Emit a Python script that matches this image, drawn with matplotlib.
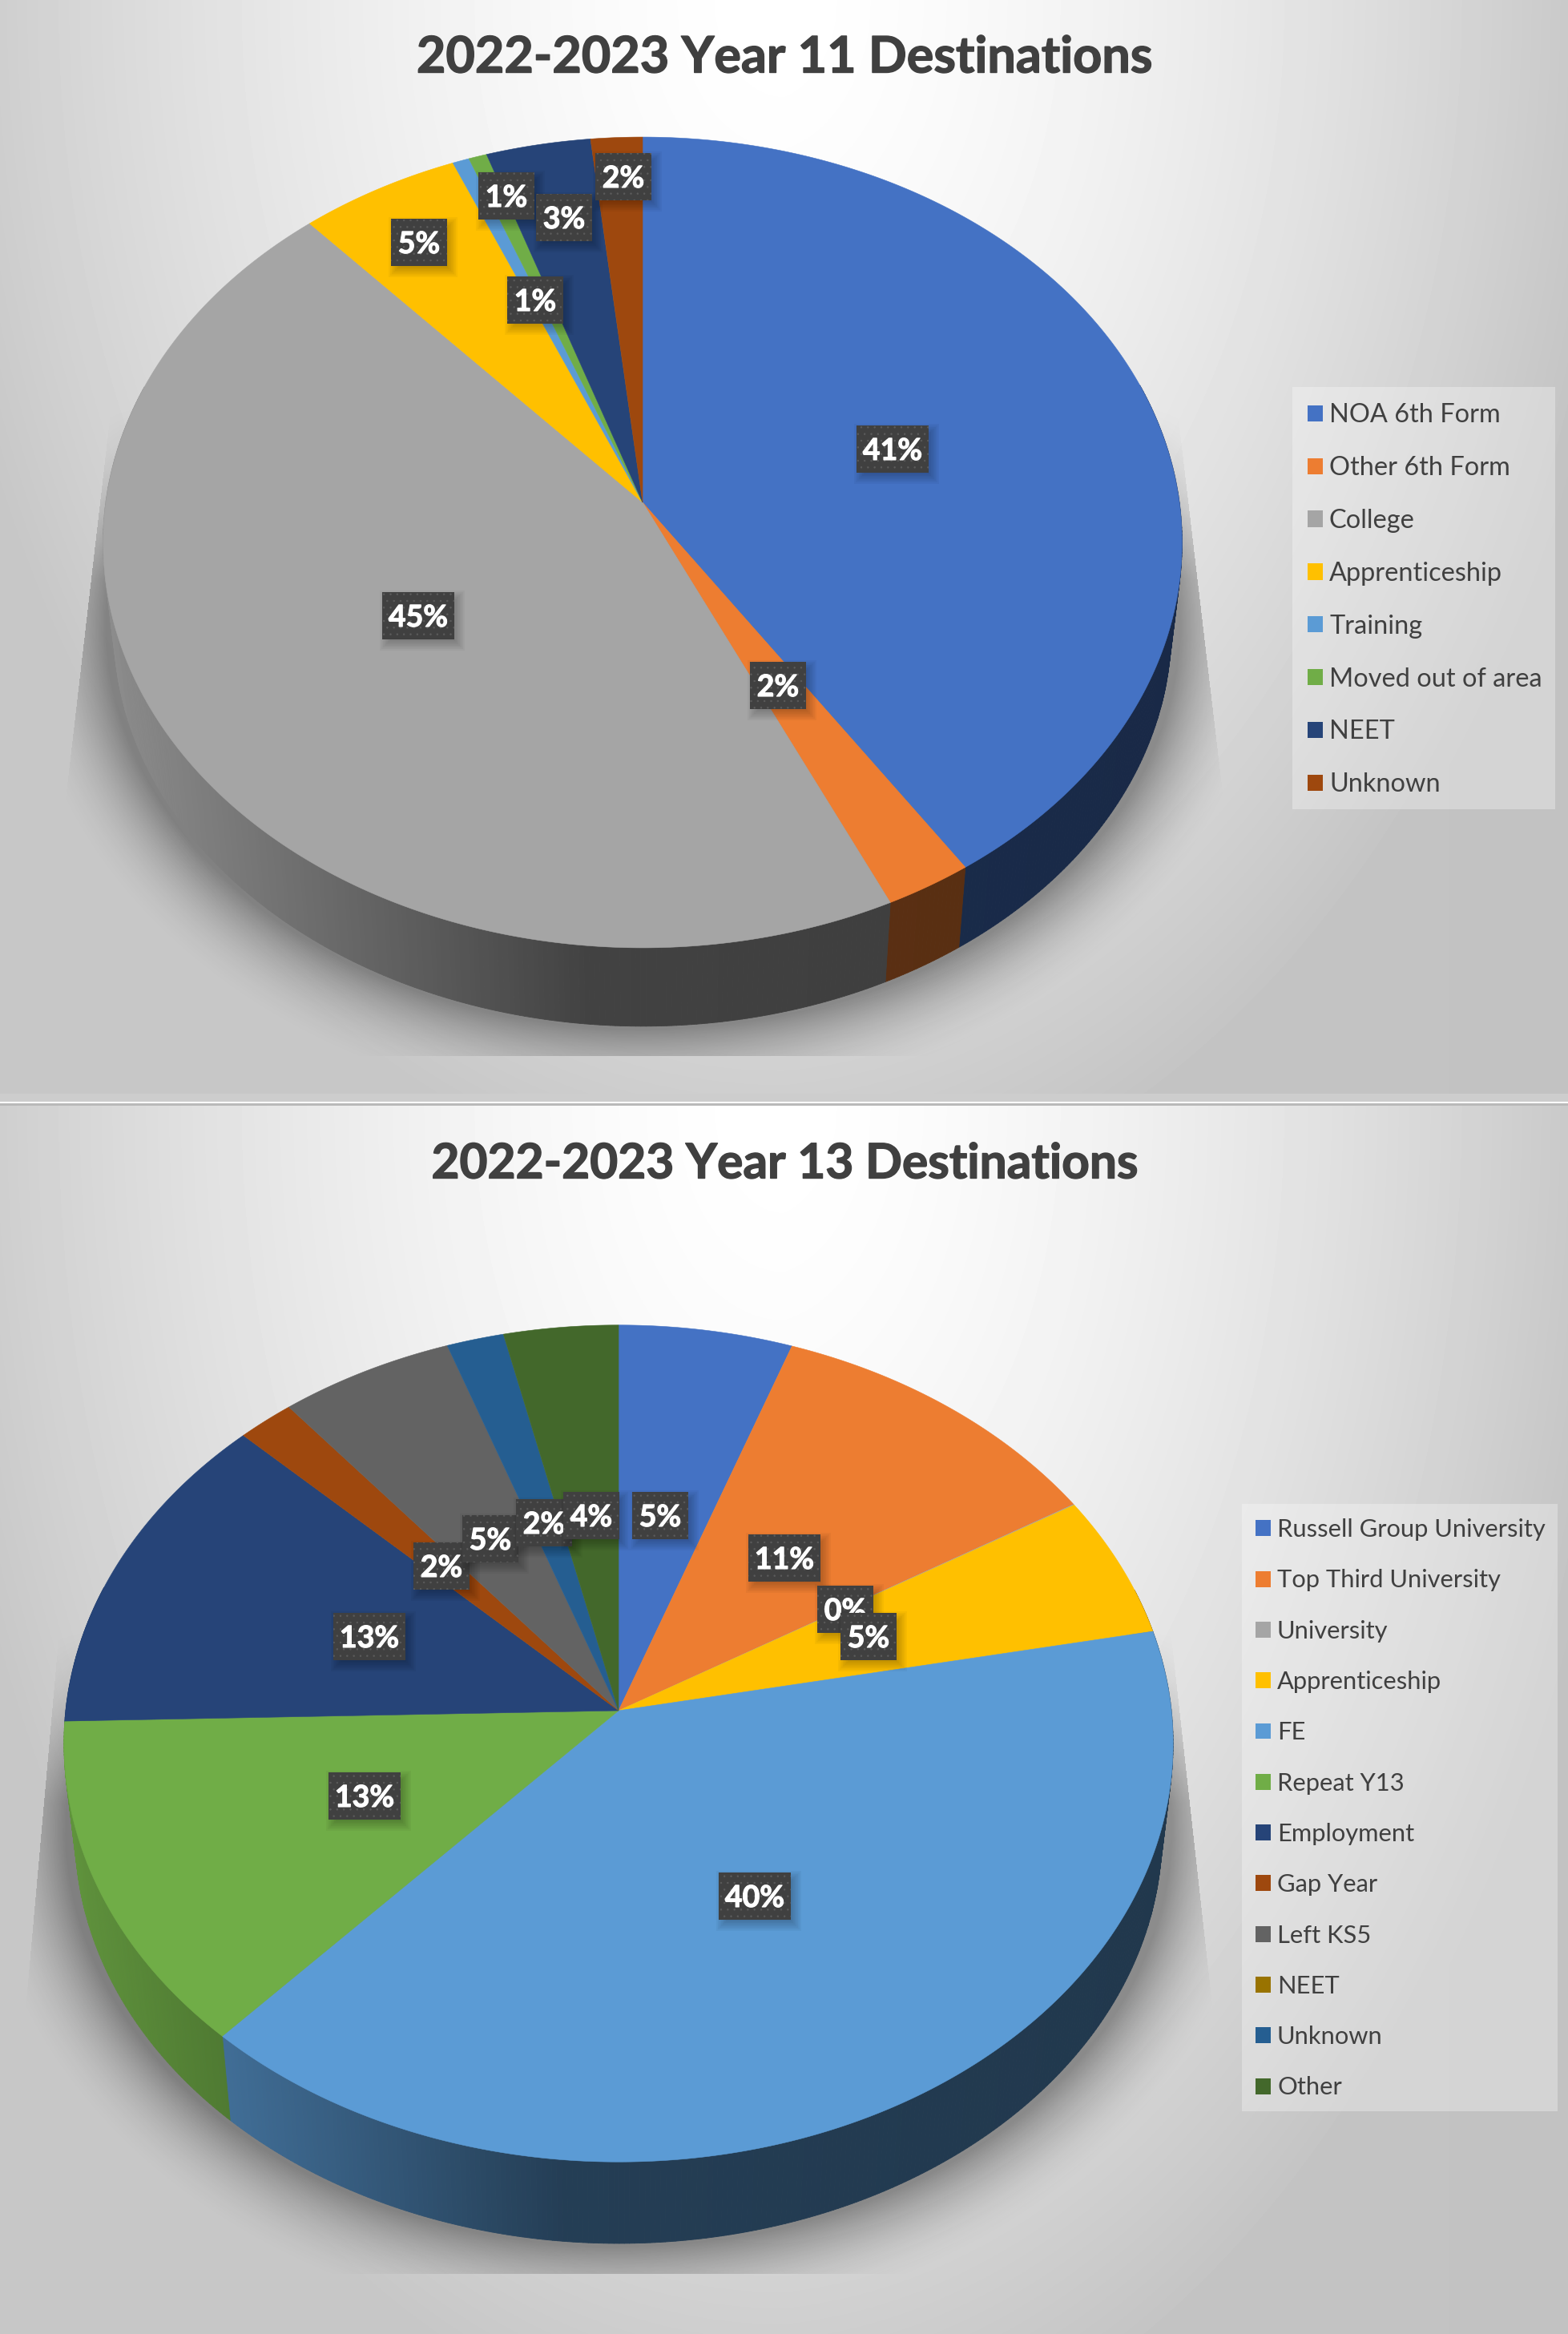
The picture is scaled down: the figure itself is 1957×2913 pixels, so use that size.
import numpy as np
import matplotlib
matplotlib.use("Agg")
import matplotlib.pyplot as plt
import matplotlib.patheffects as pe
from matplotlib.patches import Polygon, Rectangle, Patch
from matplotlib.collections import PolyCollection
from matplotlib.colors import to_rgb

W, H = 1957, 2913
plt.rcParams['font.family'] = ['Lato', 'DejaVu Sans']
plt.rcParams['hatch.linewidth'] = 0.5

# ---------- data ----------
title_11 = "2022-2023 Year 11 Destinations"
cats_11 = ["NOA 6th Form", "Other 6th Form", "College", "Apprenticeship", "Training",
           "Moved out of area", "NEET", "Unknown"]
vals_11 = [40.7, 2.4, 45.3, 5.3, 0.55, 0.6, 3.45, 1.7]
labels_11 = ["41%", "2%", "45%", "5%", "1%", "1%", "3%", "2%"]
colors_11 = ["#4472C4", "#ED7D31", "#A5A5A5", "#FFC000", "#5B9BD5", "#70AD47", "#264478", "#9E480E"]

title_13 = "2022-2023 Year 13 Destinations"
cats_13 = ["Russell Group University", "Top Third University", "University", "Apprenticeship", "FE",
           "Repeat Y13", "Employment", "Gap Year", "Left KS5", "NEET", "Unknown", "Other"]
vals_13 = [5.47, 10.9, 0.03, 5.5, 39.9, 12.8, 12.7, 1.8, 5.5, 0.0, 1.8, 3.6]
labels_13 = ["5%", "11%", "0%", "5%", "40%", "13%", "13%", "2%", "5%", "", "2%", "4%"]
colors_13 = ["#4472C4", "#ED7D31", "#A5A5A5", "#FFC000", "#5B9BD5", "#70AD47", "#264478", "#9E480E",
             "#636363", "#997300", "#255E91", "#43682B"]

# ---------- layout (pixel positions) ----------
layout_11 = dict(cx=802, cy=627, Rx=670, Ry=501, k=0.0988, d=109, title_y=72.5, title_fs=45.3,
                 trap=(502, 976, 139, 84, 1468, 1524), clip=1317, panel=(0, 1375),
                 box=(1613, 483, 1941, 1010), leg_x=1632, leg_y=518, row=65.1, fs=23.4)
label_xy_11 = [(1114, 560), (971, 855), (522, 768), (523, 302), (632, 244), (668, 374), (704, 271), (778, 220)]
layout_13 = dict(cx=772, cy=2135, Rx=690, Ry=519, k=0.0785, d=113, title_y=1453.5, title_fs=43.5,
                 trap=(2030, 2480, 74, 34, 1460, 1510), clip=2837, panel=(1378, 2913),
                 box=(1550, 1877, 1944, 2635), leg_x=1567, leg_y=1909, row=63.05, fs=22.2)
label_xy_13 = [(824, 1891), (979, 1944), (1055, 2008), (1084, 2042), (942, 2366), (455, 2241), (461, 2042),
               (551, 1954), (612, 1920), (0, 0), (679, 1900), (738, 1891)]


def background(ax, y0, y1):
    ys, xs = np.mgrid[y0:y1, 0:W:1]
    a = np.abs(xs - 978) / 978.0
    b = (ys - y0) / float(y1 - y0)
    r = np.minimum(np.sqrt(a ** 2 + b ** 2), 1.1)
    v = 1 - 0.19 * r ** 1.6 - 0.02 * np.clip(xs - 978, 0, None) / 978.0
    ax.imshow(v.astype(np.float32), extent=(0, W, y1, y0), cmap='gray', vmin=0, vmax=1,
              aspect='auto', zorder=0, interpolation='nearest')


def shadow(ax, L):
    y0, y1 = L['panel']
    ys, xs = np.mgrid[y0:y1, 0:W:1]
    cx = L['cx']
    top = L['cy'] - L['Ry'] / (1 + L['k'])
    bot = L['cy'] + L['Ry'] / (1 - L['k'])
    ey = (top + bot) / 2 + L['d'] - 8
    rx = L['Rx'] * 1.0
    ry = (bot - top) / 2
    dx, dy = xs - cx, ys - ey
    rho = np.sqrt((dx / rx) ** 2 + (dy / ry) ** 2)
    dist = np.hypot(dx, dy) * np.clip(1 - 1 / np.maximum(rho, 1e-6), 0, None)
    s = np.clip(dist / 115.0, 0, 1)
    alpha = 0.36 * (1 - s) ** 2
    ty0, ty1, xl0, xl1, xr0, xr1 = L['trap']
    f = (ys - ty0) / float(ty1 - ty0)
    xl = xl0 + (xl1 - xl0) * f
    xr = xr0 + (xr1 - xr0) * f
    mask = (ys >= ty0) & (ys <= L['clip']) & (xs >= xl) & (xs <= xr)
    fade = np.clip((ys - ty0) / 220.0, 0, 1)
    alpha = np.where(mask, alpha * fade, 0)
    rgba = np.zeros(alpha.shape + (4,), dtype=np.float32)
    rgba[..., 3] = alpha
    ax.imshow(rgba, extent=(0, W, y1, y0), aspect='auto', zorder=1, interpolation='nearest')


def rim(L, theta, lower=False):
    u, v = np.sin(theta), np.cos(theta)
    w = 1 + L['k'] * v
    X = L['Rx'] * u / w
    Y = -L['Ry'] * v / w
    if lower:
        return L['cx'] + 0.98 * X, L['cy'] + L['d'] + 0.98 * Y
    return L['cx'] + X, L['cy'] + Y


def draw_pie(ax, L, vals, colors):
    edges = np.cumsum([0.0] + list(vals))
    edges = edges / edges[-1] * 2 * np.pi
    quads, fcs = [], []
    for c, a0, a1 in zip(colors, edges[:-1], edges[1:]):
        if a1 - a0 < 1e-6:
            continue
        n = max(int((a1 - a0) / np.radians(0.5)), 1)
        th = np.linspace(a0, a1, n + 1)
        xt, yt = rim(L, th)
        xb, yb = rim(L, th, lower=True)
        base = np.array(to_rgb(c))
        for i in range(n):
            if np.cos((th[i] + th[i + 1]) / 2) > 0.3:
                continue
            quads.append([(xt[i], yt[i]), (xt[i + 1], yt[i + 1]), (xb[i + 1], yb[i + 1]), (xb[i], yb[i])])
            t = (xt[i] - L['cx']) / L['Rx']
            fcs.append(base * np.interp(t, [-1, -0.1, 1], [0.85, 0.40, 0.36]))
    ax.add_collection(PolyCollection(quads, facecolors=fcs, edgecolors=fcs, linewidths=0.6, zorder=2))
    for c, a0, a1 in zip(colors, edges[:-1], edges[1:]):
        if a1 - a0 < 1e-6:
            continue
        th = np.linspace(a0, a1, max(int((a1 - a0) / np.radians(0.5)), 2) + 1)
        xt, yt = rim(L, th)
        pts = np.column_stack([np.r_[L['cx'], xt], np.r_[L['cy'], yt]])
        ax.add_patch(Polygon(pts, closed=True, fc=c, ec=c, lw=0.4, zorder=3))


def draw_labels(ax, labels, xy):
    z = 5.0
    for lab, (x, y) in zip(labels, xy):
        if not lab:
            continue
        w = 90 if len(lab) == 3 else 70
        h = 59
        for p in range(8, -5, -2):
            ax.add_patch(Rectangle((x - w / 2 + 5 - p, y - h / 2 + 6 - p), w + 2 * p, h + 2 * p,
                                   fc='black', ec='none', alpha=0.035, zorder=z))
        ax.add_patch(Rectangle((x - w / 2, y - h / 2), w, h, fc='#404040', ec='#5c5c5c', lw=0,
                               hatch='..', zorder=z + 0.1))
        ax.text(x, y, lab, color='white', fontsize=27, fontweight='bold', ha='center',
                va='center_baseline', zorder=z + 0.2,
                path_effects=[pe.withStroke(linewidth=0.8, foreground='white')])
        z += 1


def draw_legend(ax, L, cats, colors):
    x0, y0, x1, y1 = L['box']
    ax.add_patch(Rectangle((x0, y0), x1 - x0, y1 - y0, fc='white', ec='none', alpha=0.3, zorder=4))
    fpx = L['fs'] * 100 / 72
    handles = [Patch(fc=c, ec='none') for c in colors]
    rowh = fpx * 0.9
    leg = ax.legend(handles, cats, frameon=False, loc='upper left',
                    bbox_to_anchor=(L['leg_x'], L['leg_y'] - rowh / 2),
                    bbox_transform=ax.transData, borderpad=0, borderaxespad=0,
                    fontsize=L['fs'], handlelength=19 / fpx, handleheight=19 / fpx,
                    handletextpad=8 / fpx, labelspacing=(L['row'] - rowh) / fpx,
                    labelcolor='#404040')
    leg.set_zorder(20)


fig = plt.figure(figsize=(W / 100, H / 100), dpi=100, facecolor='#cdcdcd')
ax1 = fig.add_axes([0, 0, 1, 1])
ax2 = fig.add_axes([0, 0, 1, 1])
for ax in (ax1, ax2):
    ax.set_axis_off()

background(ax1, 0, 1365)
shadow(ax1, layout_11)
background(ax2, 1378, H)
shadow(ax2, layout_13)
ax2.add_patch(Rectangle((0, 1375), W, 2, fc='white', ec='none', zorder=2))
ax2.add_patch(Rectangle((0, 1377), W, 2.5, fc='#b9b9b9', ec='none', zorder=2))

draw_pie(ax1, layout_11, vals_11, colors_11)
draw_pie(ax2, layout_13, vals_13, colors_13)
draw_labels(ax1, labels_11, label_xy_11)
draw_labels(ax2, labels_13, label_xy_13)
draw_legend(ax1, layout_11, cats_11, colors_11)
draw_legend(ax2, layout_13, cats_13, colors_13)

for ax in (ax1, ax2):
    ax.set_xlim(0, W)
    ax.set_ylim(H, 0)

for ax, t, L in ((ax1, title_11, layout_11), (ax2, title_13, layout_13)):
    ax.text(979, L['title_y'], t, color='#404040', fontsize=L['title_fs'], fontweight='bold', ha='center',
            va='center', zorder=30, path_effects=[pe.withStroke(linewidth=1.0, foreground='#404040')])

fig.savefig('out.png', dpi=100)
